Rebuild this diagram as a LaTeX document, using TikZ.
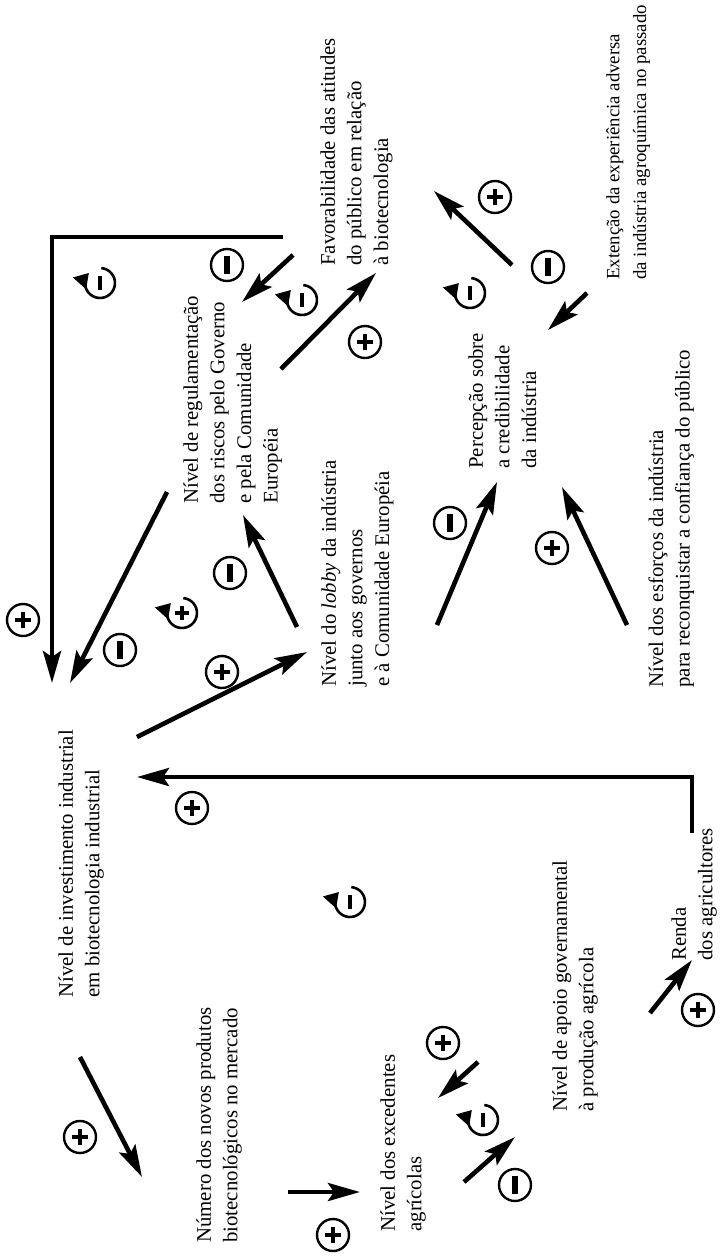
\documentclass[tikz,border=0pt]{standalone}
\usepackage{fontspec}
\setmainfont{Liberation Serif}
\usetikzlibrary{arrows.meta}

\tikzset{
    var/.style = {
        rotate      = 90,
        anchor      = north west,
        align       = left,
        inner sep   = 0pt,
        font        = \fontsize{10.4}{13.3}\selectfont,
    },
    link/.style = {
        line width = 2.3pt,
        -{Stealth[length = 16pt, width = 9pt, inset = 3pt]},
    },
    sign/.style = {
        shape        = circle,
        draw,
        line width   = 1.2pt,
        minimum size = 16pt,
        inner sep    = 0pt,
    },
    plussign/.style = {
        sign,
        path picture = {
            \draw[line width = 2.2pt]
                ([xshift = -4pt]path picture bounding box.center) -- ([xshift = 4pt]path picture bounding box.center)
                ([yshift = -4pt]path picture bounding box.center) -- ([yshift = 4pt]path picture bounding box.center);
        },
    },
    minussign/.style = {
        sign,
        path picture = {
            \draw[line width = 2.6pt]
                ([yshift = -4.5pt]path picture bounding box.center) -- ([yshift = 4.5pt]path picture bounding box.center);
        },
    },
    loopline/.style = {
        line width = 1.3pt,
        -{Triangle[length = 7pt, width = 8.5pt]},
    },
    pics/loopneg/.style = {code = {
        \draw[loopline] (85:7.5pt) arc[start angle = 85, end angle = -222, radius = 7.5pt];
        \draw[line width = 2.4pt] (0, -7) -- (0, 7);
    }},
    pics/looppos/.style = {code = {
        \draw[loopline] (85:7.5pt) arc[start angle = 85, end angle = -222, radius = 7.5pt];
        \draw[line width = 2.2pt] (0, -7) -- (0, 7) (-7, 0) -- (7, 0);
    }},
}

\begin{document}
\begin{tikzpicture}[x = 0.5pt, y = -0.5pt]
    \useasboundingbox (0, 0) rectangle (719, 1260);

    % variables
    \node[var] (fav)   at (320, 266)  {Favorabilidade das atitudes\\do público em relação\\à biotecnologia};
    \node[var, font = \fontsize{9.4}{13.3}\selectfont]
               (ext)   at (606, 280)  {Extenção da experiência adversa\\da indústria agroquímica no passado};
    \node[var] (reg)   at (183, 504)  {Nível de regulamentação\\dos riscos pelo Governo\\e pela Comunidade\\Européia};
    \node[var] (lobby) at (321, 687)  {Nível do \textit{lobby} da indústria\\junto aos governos\\e à Comunidade Européia};
    \node[var] (perc)  at (468, 469)  {Percepção sobre\\a credibilidade\\da indústria};
    \node[var] (esf)   at (648, 688)  {Nível dos esforços da indústria\\para reconquistar a confiança do público};
    \node[var] (inv)   at (58, 998)   {Nível de investimento industrial\\em biotecnologia industrial};
    \node[var] (num)   at (196, 1243) {Número dos novos produtos\\biotecnológicos no mercado};
    \node[var] (exc)   at (380, 1232) {Nível dos excedentes\\agrícolas};
    \node[var] (apoio) at (552, 1112) {Nível de apoio governamental\\à produção agrícola};
    \node[var] (renda) at (671, 961)  {Renda\\dos agricultores};

    % end points of the links
    \coordinate (fav-a)   at (283, 237);
    \coordinate (bend-a)  at (52, 237);
    \coordinate (inv-a)   at (52, 683);
    \coordinate (reg-b)   at (167, 492);
    \coordinate (inv-b)   at (70, 683);
    \coordinate (fav-c)   at (293, 255);
    \coordinate (reg-c)   at (242, 302);
    \coordinate (reg-d)   at (281, 369);
    \coordinate (fav-d)   at (376, 273);
    \coordinate (ext-f)   at (587, 293);
    \coordinate (perc-f)  at (548, 330);
    \coordinate (perc-g)  at (512, 265);
    \coordinate (fav-g)   at (434, 191);
    \coordinate (lobby-h) at (297, 627);
    \coordinate (reg-h)   at (243, 515);
    \coordinate (inv-i)   at (137, 737);
    \coordinate (lobby-i) at (307, 652);
    \coordinate (esf-j)   at (627, 625);
    \coordinate (perc-j)  at (562, 487);
    \coordinate (lobby-k) at (437, 625);
    \coordinate (perc-k)  at (497, 482);
    \coordinate (renda-l) at (692, 833);
    \coordinate (bend-l)  at (692, 777);
    \coordinate (inv-l)   at (137, 777);
    \coordinate (inv-m)   at (80, 1057);
    \coordinate (num-m)   at (142, 1177);
    \coordinate (num-n)   at (288, 1192);
    \coordinate (exc-n)   at (360, 1192);
    \coordinate (apoio-o) at (478, 1062);
    \coordinate (exc-o)   at (438, 1098);
    \coordinate (exc-p)   at (464, 1182);
    \coordinate (apoio-p) at (515, 1137);
    \coordinate (apoio-q) at (650, 1013);
    \coordinate (renda-q) at (692, 960);

    % links
    \draw[link] (fav-a) -- (bend-a) -- (inv-a);
    \draw[link] (reg-b) -- (inv-b);
    \draw[link] (fav-c) -- (reg-c);
    \draw[link] (reg-d) -- (fav-d);
    \draw[link] (ext-f) -- (perc-f);
    \draw[link] (perc-g) -- (fav-g);
    \draw[link] (lobby-h) -- (reg-h);
    \draw[link] (inv-i) -- (lobby-i);
    \draw[link] (esf-j) -- (perc-j);
    \draw[link] (lobby-k) -- (perc-k);
    \draw[link] (renda-l) -- (bend-l) -- (inv-l);
    \draw[link] (inv-m) -- (num-m);
    \draw[link] (num-n) -- (exc-n);
    \draw[link] (apoio-o) -- (exc-o);
    \draw[link] (exc-p) -- (apoio-p);
    \draw[link] (apoio-q) -- (renda-q);

    % polarities
    \node[plussign]  (sa) at (23, 620)   {};
    \node[minussign] (sb) at (120, 650)  {};
    \node[minussign] (sc) at (227, 265)  {};
    \node[plussign]  (sd) at (365, 342)  {};
    \node[minussign] (sf) at (548, 267)  {};
    \node[plussign]  (sg) at (495, 197)  {};
    \node[minussign] (sh) at (230, 573)  {};
    \node[plussign]  (si) at (222, 672)  {};
    \node[plussign]  (sj) at (552, 548)  {};
    \node[minussign] (sk) at (450, 523)  {};
    \node[plussign]  (sl) at (192, 808)  {};
    \node[plussign]  (sm) at (80, 1137)  {};
    \node[plussign]  (sn) at (333, 1235) {};
    \node[plussign]  (so) at (443, 1043) {};
    \node[minussign] (sp) at (515, 1185) {};
    \node[plussign]  (sq) at (698, 1010) {};

    % loops
    \pic at (100, 283)  {loopneg};
    \pic at (302, 300)  {loopneg};
    \pic at (470, 293)  {loopneg};
    \pic at (182, 613)  {looppos};
    \pic at (350, 902)  {loopneg};
    \pic at (483, 1120) {loopneg};
\end{tikzpicture}
\end{document}
